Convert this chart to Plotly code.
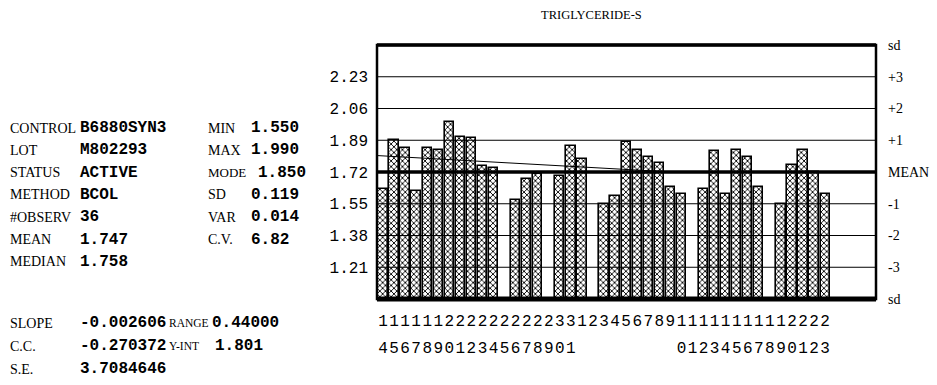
import plotly.graph_objects as go

# ---------------- data ----------------
days = [14, 15, 16, 17, 18, 19, 20, 21, 22, 23, 24, 25, 26, 27, 28, 29, 30, 31,
        1, 2, 3, 4, 5, 6, 7, 8, 9,
        10, 11, 12, 13, 14, 15, 16, 17, 18, 19, 20, 21, 22, 23]
values = [1.63, 1.89, 1.85, 1.62, 1.85, 1.84, 1.99, 1.91, 1.90, 1.75, 1.74, None,
          1.57, 1.68, 1.71, None, 1.70, 1.86,
          1.79, None, 1.55, 1.59, 1.88, 1.84, 1.80, 1.77, 1.64,
          1.60, None, 1.63, 1.83, 1.60, 1.84, 1.80, 1.64, None, 1.55, 1.76, 1.84, 1.72, 1.60]
left_ticks = [1.21, 1.38, 1.55, 1.72, 1.89, 2.06, 2.23]
right_ticks = [1.04, 1.21, 1.38, 1.55, 1.72, 1.89, 2.06, 2.23, 2.40]
right_labels = ["sd", "-3", "-2", "-1", "MEAN", "+1", "+2", "+3", "sd"]
mean_level = 1.72
trend_start = 1.808          # trend line value at left edge
trend_step = -0.0033         # change per day slot

info_rows = [("CONTROL", "B6880SYN3", "MIN", "1.550"),
             ("LOT", "M802293", "MAX", "1.990"),
             ("STATUS", "ACTIVE", "MODE", "1.850"),
             ("METHOD", "BCOL", "SD", "0.119"),
             ("#OBSERV", "36", "VAR", "0.014"),
             ("MEAN", "1.747", "C.V.", "6.82"),
             ("MEDIAN", "1.758", "", "")]
stat_rows = [("SLOPE", "-0.002606", "RANGE", "0.44000"),
             ("C.C.", "-0.270372", "Y-INT", "1.801"),
             ("S.E.", "3.7084646", "", "")]
title = "TRIGLYCERIDE-S"

# ---------------- layout geometry ----------------
W, H = 937, 385
PL, PR, PT, PB = 377, 876, 45, 299
YMIN, YMAX = 1.04, 2.40
XMIN, XMAX = -0.54, 44.6

slots = list(range(len(days)))
row1 = [str(d)[0] for d in days]
row2 = [str(d)[1] if d >= 10 else "" for d in days]

SERIF = "Liberation Serif"
MONO = "Liberation Mono"

fig = go.Figure()
fig.add_trace(go.Bar(
    x=slots, y=values, width=0.84,
    marker=dict(color="white", line=dict(color="black", width=1.6),
                pattern=dict(shape="x", size=4, solidity=0.4, fgcolor="black", bgcolor="white")),
    showlegend=False, hoverinfo="skip"))

# trend line (only the part above the mean line is visible)
tx, ty = [], []
s = XMIN
while True:
    v = trend_start + trend_step * (s - XMIN)
    if v < mean_level:
        break
    tx.append(s); ty.append(v)
    s += 0.5
fig.add_trace(go.Scatter(x=tx, y=ty, mode="lines", line=dict(color="black", width=1),
                         showlegend=False, hoverinfo="skip"))
# dummy traces to activate secondary axes
fig.add_trace(go.Scatter(x=[0], y=[mean_level], xaxis="x2", yaxis="y", mode="markers",
                         marker=dict(opacity=0), showlegend=False, hoverinfo="skip"))
fig.add_trace(go.Scatter(x=[0], y=[mean_level], xaxis="x", yaxis="y2", mode="markers",
                         marker=dict(opacity=0), showlegend=False, hoverinfo="skip"))

xdom = [PL / W, PR / W]
ydom = [1 - PB / H, 1 - PT / H]

fig.update_layout(
    template="none",
    width=W, height=H, margin=dict(l=0, r=0, t=0, b=0, pad=0, autoexpand=False),
    paper_bgcolor="white", plot_bgcolor="white", bargap=0,
    xaxis=dict(domain=xdom, range=[XMIN, XMAX], showgrid=False, zeroline=False,
               showline=False, tickmode="array", tickvals=slots, ticktext=row1,
               ticks="", tickangle=0, automargin=False,
               tickfont=dict(family=MONO, size=16, color="black"),
               ticklabelstandoff=10, anchor="y"),
    xaxis2=dict(overlaying="x", range=[XMIN, XMAX], showgrid=False, zeroline=False,
                showline=False, tickmode="array", tickvals=slots, ticktext=row2,
                ticks="", tickangle=0, automargin=False,
                tickfont=dict(family=MONO, size=16, color="black"),
                anchor="free", position=(H - 336) / H, side="bottom"),
    yaxis=dict(domain=ydom, range=[YMIN, YMAX], showgrid=False, zeroline=False,
               showline=False, tickmode="array", tickvals=left_ticks,
               ticktext=[f"{v:.2f}" for v in left_ticks], ticks="", automargin=False,
               tickfont=dict(family=MONO, size=16, color="black"), ticklabelstandoff=8),
    yaxis2=dict(overlaying="y", side="right", range=[YMIN, YMAX], showgrid=False,
                zeroline=False, showline=False, tickmode="array", tickvals=right_ticks,
                ticktext=right_labels, ticks="", automargin=False,
                tickfont=dict(family=SERIF, size=14, color="black"), ticklabelstandoff=11),
)

# gridlines above bars
for v in left_ticks:
    if v == mean_level:
        continue
    fig.add_shape(type="line", xref="x domain", yref="y", x0=0, x1=1, y0=v, y1=v,
                  line=dict(color="black", width=1), layer="above")
fig.add_shape(type="line", xref="x domain", yref="y", x0=0, x1=1, y0=mean_level, y1=mean_level,
              line=dict(color="black", width=3.5), layer="above")
# frame
fig.add_shape(type="rect", xref="x domain", yref="y domain", x0=0, x1=1, y0=0, y1=1,
              line=dict(color="black", width=2.5), layer="above")
fig.add_shape(type="line", xref="x domain", yref="y domain", x0=0, x1=1, y0=0, y1=0,
              line=dict(color="black", width=5), layer="above")
fig.add_shape(type="line", xref="x domain", yref="y domain", x0=0, x1=1, y0=1, y1=1,
              line=dict(color="black", width=3.5), layer="above")


def txt(x, y, s, family, size, bold=False):
    fig.add_annotation(x=x / W, y=1 - y / H, xref="paper", yref="paper", showarrow=False,
                       xanchor="left", yanchor="middle", borderpad=0,
                       text=f"<b>{s}</b>" if bold else s,
                       font=dict(family=family, size=size, color="black"))


fig.add_annotation(x=591 / W, y=1 - 15 / H, xref="paper", yref="paper", showarrow=False,
                   xanchor="center", yanchor="middle", text=title,
                   font=dict(family=SERIF, size=12.5, color="black"))

for i, (l1, v1, l2, v2) in enumerate(info_rows):
    y = 128 + 22.3 * i
    txt(9, y, l1, SERIF, 14)
    txt(79, y, v1, MONO, 16, bold=True)
    if l2:
        txt(207, y, l2, SERIF, 13 if l2 == "MODE" else 14)
        txt(257 if l2 == "MODE" else 250, y, v2, MONO, 16, bold=True)

for i, (l1, v1, l2, v2) in enumerate(stat_rows):
    y = 323 + 23 * i
    txt(9, y, l1, SERIF, 14)
    txt(79, y, v1, MONO, 16, bold=True)
    if l2:
        txt(168, y, l2, SERIF, 11.5)
        txt(211 if l2 == "RANGE" else 214, y, v2, MONO, 16, bold=True)

fig.write_html("out.html")
